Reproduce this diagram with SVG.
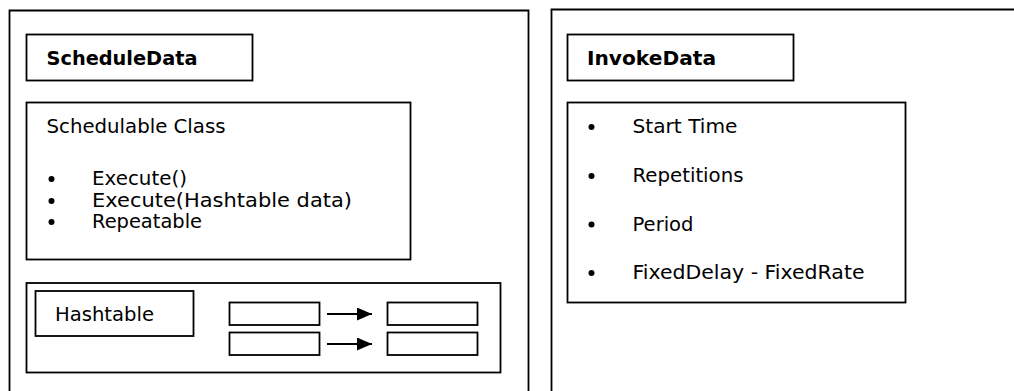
<svg xmlns="http://www.w3.org/2000/svg" width="1014" height="391" viewBox="0 0 1014 391">
  <style>
    .box { fill: #fff; stroke: #000; stroke-width: 1.8; }
    .frame { fill: none; stroke: #000; stroke-width: 1.8; }
    .txt { font-family: "DejaVu Sans", Verdana, sans-serif; font-size: 19.7px; fill: #000; }
    .bold { font-weight: bold; font-size: 19.5px; }
    .dot { fill: #000; }
    .link { stroke: #000; stroke-width: 1.8; fill: none; marker-end: url(#head); }
  </style>
  <defs>
    <marker id="head" markerWidth="15" markerHeight="13" refX="15" refY="6.5" orient="auto" markerUnits="userSpaceOnUse">
      <path d="M0,0 L15,6.5 L0,13 Z" fill="#000"/>
    </marker>
  </defs>
  <rect width="1014" height="391" fill="#fff"/>

  <!-- ScheduleData panel -->
  <g id="schedule-panel">
    <path class="frame" d="M9.5,395 V10.5 H528.5 V395"/>
  </g>
  <g id="schedule-title">
    <rect class="box" x="26.5" y="34.5" width="226" height="46"/>
    <text class="txt bold" x="46.5" y="65" textLength="151" lengthAdjust="spacingAndGlyphs">ScheduleData</text>
  </g>
  <g id="schedulable-class">
    <rect class="box" x="26.5" y="102.5" width="384" height="157"/>
    <text class="txt" x="46.5" y="133" textLength="179" lengthAdjust="spacingAndGlyphs">Schedulable Class</text>
    <circle class="dot" cx="51.5" cy="179" r="3"/>
    <circle class="dot" cx="51.5" cy="201" r="3"/>
    <circle class="dot" cx="51.5" cy="222" r="3"/>
    <text class="txt" x="92" y="185" textLength="95" lengthAdjust="spacingAndGlyphs">Execute()</text>
    <text class="txt" x="92" y="207" textLength="260" lengthAdjust="spacingAndGlyphs">Execute(Hashtable data)</text>
    <text class="txt" x="92" y="228" textLength="110" lengthAdjust="spacingAndGlyphs">Repeatable</text>
  </g>
  <g id="hashtable">
    <rect class="box" x="26.5" y="283" width="474" height="89.5"/>
    <rect class="box" x="35.5" y="291" width="158" height="45"/>
    <text class="txt" x="55" y="320.5" textLength="99" lengthAdjust="spacingAndGlyphs">Hashtable</text>
  </g>
  <g id="key-1"><rect class="box" x="229.5" y="302.5" width="90" height="22.5"/></g>
  <g id="key-2"><rect class="box" x="229.5" y="332.5" width="90" height="22.5"/></g>
  <g id="value-1"><rect class="box" x="387.5" y="302.5" width="90" height="22.5"/></g>
  <g id="value-2"><rect class="box" x="387.5" y="332.5" width="90" height="22.5"/></g>

  <!-- InvokeData panel -->
  <g id="invoke-panel">
    <path class="frame" d="M551.5,395 V9.5 H1020"/>
  </g>
  <g id="invoke-title">
    <rect class="box" x="567.5" y="34.5" width="226" height="46"/>
    <text class="txt bold" x="587" y="65" textLength="129" lengthAdjust="spacingAndGlyphs">InvokeData</text>
  </g>
  <g id="invoke-fields">
    <rect class="box" x="567.5" y="102.5" width="338" height="200"/>
    <circle class="dot" cx="591.5" cy="127" r="3"/>
    <circle class="dot" cx="591.5" cy="176" r="3"/>
    <circle class="dot" cx="591.5" cy="224.5" r="3"/>
    <circle class="dot" cx="591.5" cy="273" r="3"/>
    <text class="txt" x="632.5" y="133" textLength="105" lengthAdjust="spacingAndGlyphs">Start Time</text>
    <text class="txt" x="632.5" y="182" textLength="111" lengthAdjust="spacingAndGlyphs">Repetitions</text>
    <text class="txt" x="632.5" y="230.5" textLength="61" lengthAdjust="spacingAndGlyphs">Period</text>
    <text class="txt" x="632.5" y="279" textLength="232" lengthAdjust="spacingAndGlyphs">FixedDelay - FixedRate</text>
  </g>

  <!-- key to value links -->
  <g id="connectors">
    <line class="link" x1="327" y1="314" x2="372" y2="314"/>
    <line class="link" x1="327" y1="344" x2="372" y2="344"/>
  </g>
</svg>
